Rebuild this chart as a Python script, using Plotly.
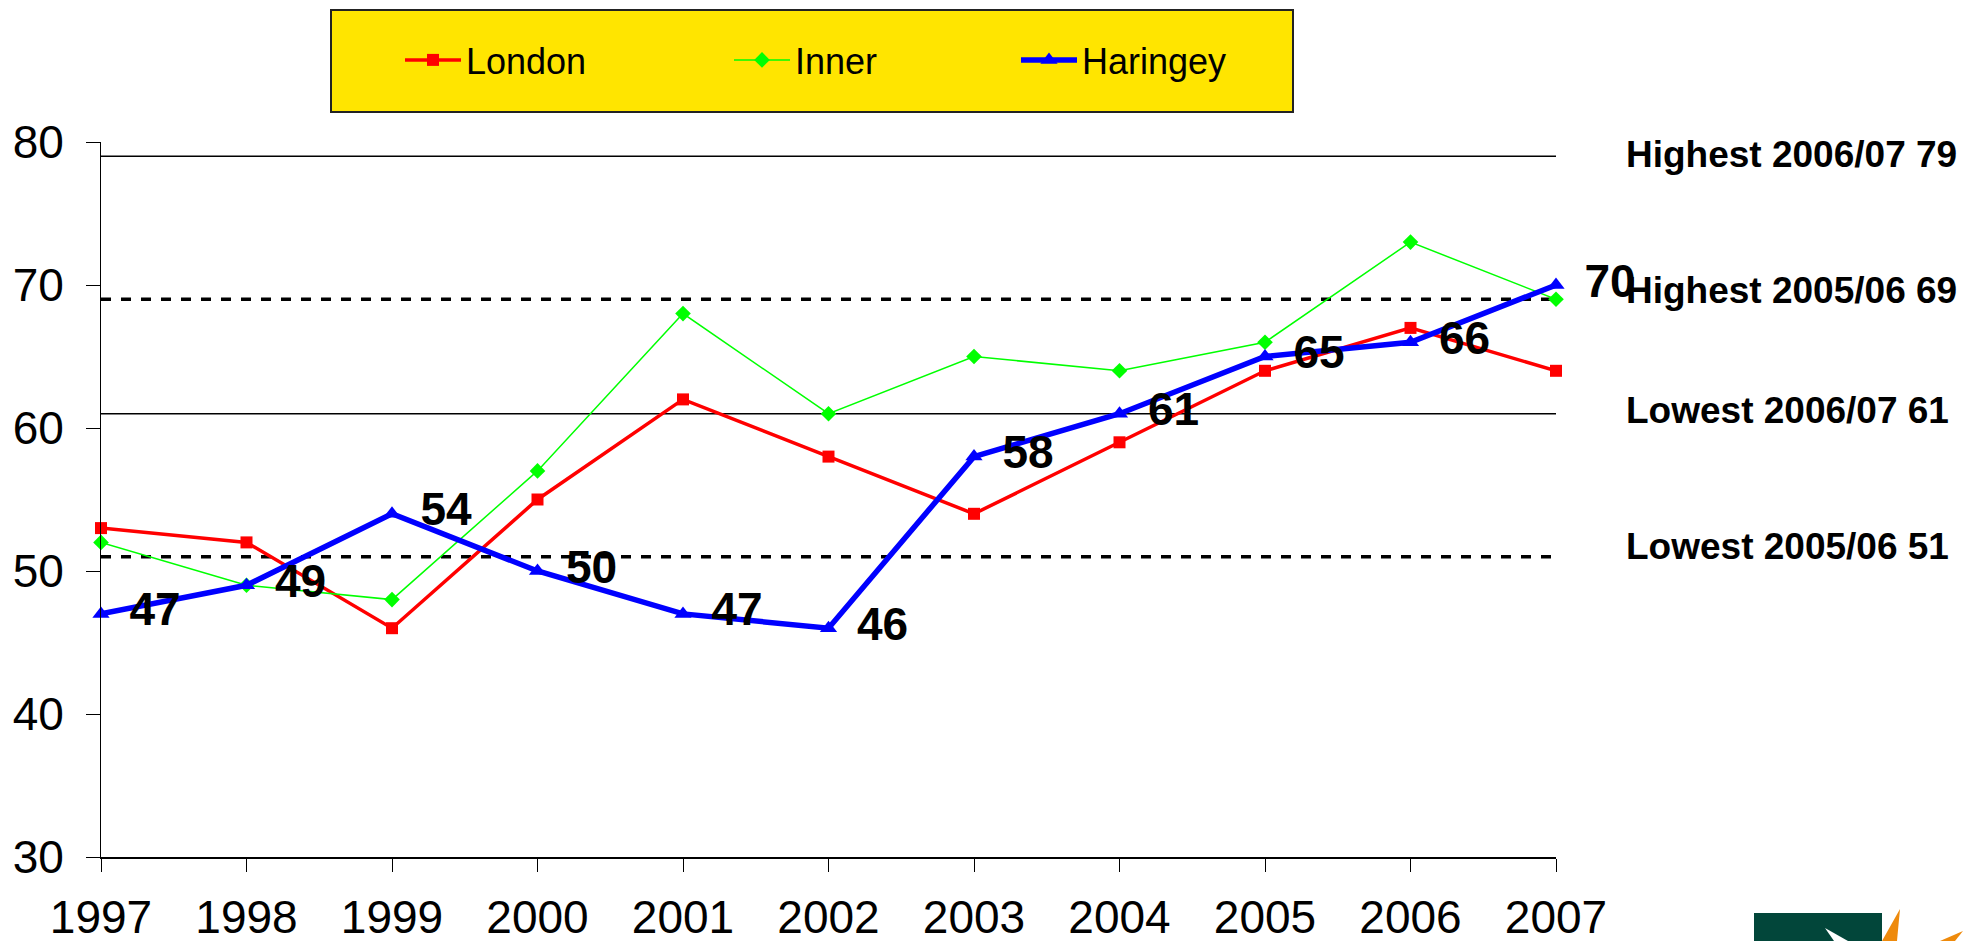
import plotly.graph_objects as go

years = list(range(1997, 2008))
london = [53, 52, 46, 55, 62, 58, 54, 59, 64, 67, 64]
inner = [52, 49, 48, 57, 68, 61, 65, 64, 66, 73, 69]
haringey = [47, 49, 54, 50, 47, 46, 58, 61, 65, 66, 70]

ref_values = [79, 69, 61, 51]
ref_dashes = ["solid", "10px,10px", "solid", "10px,10px"]
ref_labels = ["Highest 2006/07 79", "Highest 2005/06 69", "Lowest 2006/07 61", "Lowest 2005/06 51"]
ref_label_shift = [2, 9, 3, 10]
y_ticks = [30, 40, 50, 60, 70, 80]

FONT = "Liberation Sans, Arial, sans-serif"
W, H = 1984, 941
L, R, T, B = 101, 428, 142, 84
PW, PH = W - L - R, H - T - B


def px_x(p):
    return (p - L) / PW


def px_y(p):
    return (H - B - p) / PH


def path(points):
    s = "M " + " L ".join(f"{px_x(a):.5f},{px_y(b):.5f}" for a, b in points) + " Z"
    return s


fig = go.Figure()

fig.add_trace(go.Scatter(
    x=years, y=london, name="London", mode="lines+markers",
    line=dict(color="#FF0000", width=3.5),
    marker=dict(symbol="square", size=12, color="#FF0000"),
    legend="legend", cliponaxis=False,
))
fig.add_trace(go.Scatter(
    x=years, y=inner, name="Inner", mode="lines+markers",
    line=dict(color="#00FF00", width=1.5),
    marker=dict(symbol="diamond", size=12, color="#00FF00"),
    legend="legend2", cliponaxis=False,
))
fig.add_trace(go.Scatter(
    x=years, y=haringey, name="Haringey", mode="lines+markers",
    line=dict(color="#0000FF", width=5.5),
    marker=dict(symbol="triangle-up", size=15, color="#0000FF"),
    legend="legend3", cliponaxis=False,
))
fig.add_trace(go.Scatter(
    x=years, y=haringey, mode="markers+text", showlegend=False,
    text=[str(v) for v in haringey], textposition="middle right",
    textfont=dict(family=FONT, size=46, color="black", weight="bold"),
    marker=dict(size=44, color="rgba(0,0,0,0)"),
    hoverinfo="skip", cliponaxis=False,
))

for v, d in zip(ref_values, ref_dashes):
    fig.add_shape(type="line", xref="x", yref="y", x0=years[0], x1=years[-1], y0=v, y1=v,
                  line=dict(color="black", width=1.5 if d == "solid" else 3.5, dash=d),
                  layer="below")

for v, t, s in zip(ref_values, ref_labels, ref_label_shift):
    fig.add_annotation(xref="paper", yref="y", x=px_x(1624), y=v, yshift=s,
                       text=t, showarrow=False, xanchor="left", yanchor="middle",
                       font=dict(family=FONT, size=37, color="black", weight="bold"))

# yellow legend box
fig.add_shape(type="rect", xref="paper", yref="paper",
              x0=px_x(331), x1=px_x(1293), y0=px_y(112), y1=px_y(10),
              fillcolor="#FFE500", line=dict(color="#222222", width=2), layer="below")

# logo fragment
fig.add_shape(type="rect", xref="paper", yref="paper",
              x0=px_x(1754), x1=px_x(1882), y0=px_y(941), y1=px_y(913),
              fillcolor="#02463A", line=dict(width=0), layer="below")
fig.add_shape(type="path", xref="paper", yref="paper",
              path=path([(1825, 928), (1848, 941), (1834, 941)]),
              fillcolor="white", line=dict(width=0), layer="below")
fig.add_shape(type="path", xref="paper", yref="paper",
              path=path([(1882, 941), (1900, 909), (1897, 941)]),
              fillcolor="#EE8A0C", line=dict(width=0), layer="below")
fig.add_shape(type="path", xref="paper", yref="paper",
              path=path([(1940, 941), (1963, 931), (1955, 941)]),
              fillcolor="#EE8A0C", line=dict(width=0), layer="below")

leg_common = dict(orientation="h", bgcolor="rgba(0,0,0,0)", borderwidth=0,
                  font=dict(family=FONT, size=36, color="black"),
                  itemwidth=56, yanchor="middle", xanchor="left")

fig.update_layout(
    width=W, height=H,
    margin=dict(l=L, r=R, t=T, b=B, pad=0, autoexpand=False),
    paper_bgcolor="white", plot_bgcolor="white",
    font=dict(family=FONT, color="black"),
    legend=dict(x=px_x(400), y=px_y(60), **leg_common),
    legend2=dict(x=px_x(729), y=px_y(60), **leg_common),
    legend3=dict(x=px_x(1016), y=px_y(60), **leg_common),
    xaxis=dict(range=[years[0], years[-1]], tickvals=years, ticktext=[str(y) for y in years],
               showgrid=False, zeroline=False, showline=True, linecolor="black", linewidth=2,
               ticks="outside", ticklen=13, tickwidth=1, tickcolor="black",
               tickfont=dict(family=FONT, size=46, color="black"), ticklabelstandoff=6),
    yaxis=dict(range=[30, 80], tickvals=y_ticks, showgrid=False, zeroline=False,
               showline=True, linecolor="black", linewidth=1,
               ticks="outside", ticklen=14, tickwidth=1, tickcolor="black",
               tickfont=dict(family=FONT, size=46, color="black"), ticklabelstandoff=13),
    xaxis2=dict(overlaying="x", anchor="y", side="bottom", range=[years[0], years[-1]],
                tickvals=years, showticklabels=False, showgrid=False, zeroline=False,
                showline=False, ticks="inside", ticklen=13, tickwidth=1, tickcolor="black"),
    yaxis2=dict(overlaying="y", anchor="x", side="left", range=[30, 80],
                tickvals=y_ticks, showticklabels=False, showgrid=False, zeroline=False,
                showline=False, ticks="inside", ticklen=14, tickwidth=1, tickcolor="black"),
    showlegend=True,
)

fig.write_html("out.html", config={"displayModeBar": False},
               post_script="document.body.style.margin='0px';document.body.style.overflow='hidden';")
